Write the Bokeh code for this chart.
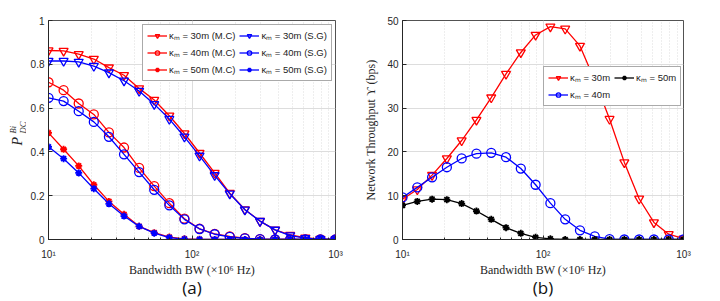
from bokeh.plotting import figure
from bokeh.layouts import row
from bokeh.models import Range1d, FixedTicker, Legend, LegendItem, Label, Title
from bokeh.embed import file_html
from bokeh.resources import INLINE
import math

# Bandwidth samples (x 10^6 Hz)
bw = [10.0, 12.743, 16.238, 20.691, 26.367, 33.598, 42.813, 54.556, 69.519, 88.587,
      112.884, 143.845, 183.298, 233.572, 297.635, 379.269, 483.293, 615.848, 784.760, 1000.0]

# (a) P_DC^Bi
p30_mc = [0.863, 0.861, 0.846, 0.824, 0.785, 0.750, 0.690, 0.637, 0.565, 0.484,
          0.395, 0.304, 0.212, 0.137, 0.084, 0.044, 0.021, 0.008, 0.002, 0.0]
p30_sg = [0.815, 0.815, 0.811, 0.792, 0.762, 0.725, 0.678, 0.618, 0.550, 0.469,
          0.382, 0.293, 0.209, 0.136, 0.084, 0.044, 0.018, 0.006, 0.001, 0.0]
p40_mc = [0.718, 0.682, 0.621, 0.571, 0.489, 0.420, 0.327, 0.244, 0.166, 0.095,
          0.049, 0.026, 0.014, 0.006, 0.002, 0.0, 0.0, 0.0, 0.0, 0.0]
p40_sg = [0.647, 0.632, 0.586, 0.537, 0.469, 0.389, 0.308, 0.227, 0.156, 0.092,
          0.048, 0.024, 0.012, 0.005, 0.002, 0.0, 0.0, 0.0, 0.0, 0.0]
p50_mc = [0.487, 0.412, 0.336, 0.250, 0.174, 0.115, 0.060, 0.031, 0.011, 0.003,
          0.001, 0.0, 0.0, 0.0, 0.0, 0.0, 0.0, 0.0, 0.0, 0.0]
p50_sg = [0.423, 0.369, 0.304, 0.232, 0.163, 0.107, 0.060, 0.029, 0.009, 0.002,
          0.0005, 0.0, 0.0, 0.0, 0.0, 0.0, 0.0, 0.0, 0.0, 0.0]

# (b) Network throughput (bps)
t30 = [9.2, 11.4, 14.7, 18.5, 22.6, 27.3, 32.4, 37.8, 42.7, 46.7,
       48.6, 48.1, 44.2, 36.3, 27.5, 17.6, 9.3, 3.9, 1.2, 0.2]
t40 = [9.6, 11.9, 14.2, 16.5, 18.5, 19.6, 19.8, 18.8, 16.2, 12.5,
       8.3, 4.6, 2.1, 0.7, 0.1, 0.0, 0.0, 0.0, 0.0, 0.0]
t50 = [7.8, 8.7, 9.2, 9.1, 8.2, 6.5, 4.6, 2.7, 1.4, 0.5,
       0.15, 0.0, 0.0, 0.0, 0.0, 0.0, 0.0, 0.0, 0.0, 0.0]

x_major = [10, 100, 1000]
x_minor = [20, 30, 40, 50, 60, 70, 80, 90, 200, 300, 400, 500, 600, 700, 800, 900]
x_labels = {10: "10¹", 100: "10²", 1000: "10³"}
ya_ticks = [0, 0.2, 0.4, 0.6, 0.8, 1]
ya_labels = {0: "0", 0.2: "0.2", 0.4: "0.4", 0.6: "0.6", 0.8: "0.8", 1: "1"}
yb_ticks = [0, 10, 20, 30, 40, 50]

RED = "#ff0000"
BLUE = "#0000ff"
BLACK = "#000000"
AX = "#262626"
SANS = "Liberation Sans"
SERIF = "Liberation Serif"


def make_fig(y_max, y_ticks, frame_w, bl, br):
    p = figure(x_axis_type="log", output_backend="svg", toolbar_location=None,
               frame_width=frame_w, frame_height=219,
               min_border_left=bl, min_border_right=br, min_border_top=20,
               min_border_bottom=60,
               x_range=Range1d(10, 1000), y_range=Range1d(0, y_max))
    p.background_fill_color = "white"
    p.border_fill_color = "white"
    p.outline_line_color = AX
    p.outline_line_width = 0.8
    p.xaxis.ticker = FixedTicker(ticks=x_major, minor_ticks=x_minor)
    p.xaxis.major_label_overrides = x_labels
    p.yaxis.ticker = FixedTicker(ticks=y_ticks)
    for ax in (p.xaxis[0], p.yaxis[0]):
        ax.major_tick_in = 4
        ax.major_tick_out = 0
        ax.minor_tick_in = 2
        ax.minor_tick_out = 0
        ax.axis_line_color = AX
        ax.major_tick_line_color = AX
        ax.minor_tick_line_color = AX
        ax.major_label_text_font = SANS
        ax.major_label_text_font_size = "10px"
        ax.major_label_text_color = AX
        ax.axis_label_text_font = SERIF
        ax.axis_label_text_font_size = "12px"
        ax.axis_label_text_font_style = "normal"
        ax.axis_label_text_color = AX
        ax.axis_label_text_line_height = 1.0
    p.yaxis.minor_tick_line_color = None
    p.yaxis.major_label_standoff = 4
    p.xaxis.major_label_standoff = 9
    p.xaxis.axis_label_standoff = 0
    p.xaxis.axis_label = "Bandwidth BW (×10⁶ Hz)"
    p.xgrid.grid_line_color = "#dddddd"
    p.xgrid.minor_grid_line_color = "#dddddd"
    p.xgrid.minor_grid_line_dash = "1 2"
    p.ygrid.grid_line_color = "#dddddd"
    return p


def series(p, y, color, marker, size):
    r1 = p.line(bw, y, line_color=color, line_width=1.3)
    if marker == "asterisk":
        r2 = p.scatter(bw, y, marker="asterisk", size=size, line_color=color, line_width=1.8)
    else:
        r2 = p.scatter(bw, y, marker=marker, size=size, line_color=color,
                       fill_color=None, line_width=1.3)
    return [r1, r2]


def style_legend(lg):
    lg.label_text_font = SANS
    lg.label_text_font_size = "9.5px"
    lg.label_text_color = "#222222"
    lg.glyph_width = 20
    lg.glyph_height = 11
    lg.label_height = 11
    lg.label_standoff = 2
    lg.spacing = 4
    lg.padding = 4
    lg.margin = 0
    lg.border_line_color = "#555555"
    lg.border_line_width = 1
    lg.background_fill_alpha = 1.0


def caption(text):
    return Title(text=text, align="center", text_font="Open Sans",
                 text_font_size="17px", text_font_style="normal",
                 text_line_height=1.0, text_color="#111111", standoff=-11)


# ---------- y-axis title of (a), P^{Bi}_{DC}, in a narrow side panel ----------
lab = figure(output_backend="svg", toolbar_location=None,
             frame_width=26, frame_height=219,
             min_border_left=0, min_border_right=0, min_border_top=20,
             min_border_bottom=0, x_axis_location=None, y_axis_location=None,
             x_range=Range1d(0, 1), y_range=Range1d(0, 1))
lab.grid.visible = False
lab.outline_line_color = None
lab.add_layout(Label(x=17, y=94, x_units="screen", y_units="screen", text="P",
                     angle=math.pi / 2, text_font=SERIF, text_font_style="italic",
                     text_font_size="14px", text_align="left", text_baseline="middle",
                     text_color=AX))
lab.add_layout(Label(x=12, y=106, x_units="screen", y_units="screen", text="Bi",
                     angle=math.pi / 2, text_font=SERIF, text_font_style="italic",
                     text_font_size="8.5px", text_align="left", text_baseline="middle",
                     text_color=AX))
lab.add_layout(Label(x=22, y=106, x_units="screen", y_units="screen", text="DC",
                     angle=math.pi / 2, text_font=SERIF, text_font_style="italic",
                     text_font_size="8.5px", text_align="left", text_baseline="middle",
                     text_color=AX))

# ---------- (a) ----------
pa = make_fig(1, ya_ticks, 287, 22, 25)
pa.yaxis.major_label_overrides = ya_labels
r30mc = series(pa, p30_mc, RED, "inverted_triangle", 9)
r40mc = series(pa, p40_mc, RED, "circle", 9)
r50mc = series(pa, p50_mc, RED, "asterisk", 7)
r30sg = series(pa, p30_sg, BLUE, "inverted_triangle", 9)
r40sg = series(pa, p40_sg, BLUE, "circle", 9)
r50sg = series(pa, p50_sg, BLUE, "asterisk", 7)

lga = Legend(items=[
    LegendItem(label="κₘ = 30m (M.C)", renderers=r30mc),
    LegendItem(label="κₘ = 40m (M.C)", renderers=r40mc),
    LegendItem(label="κₘ = 50m (M.C)", renderers=r50mc),
    LegendItem(label="κₘ = 30m (S.G)", renderers=r30sg),
    LegendItem(label="κₘ = 40m (S.G)", renderers=r40sg),
    LegendItem(label="κₘ = 50m (S.G)", renderers=r50sg),
], nrows=3, location=(94, 158))
style_legend(lga)
pa.add_layout(lga)
pa.add_layout(caption("(a)"), "below")

# ---------- (b) ----------
pb = make_fig(50, yb_ticks, 281, 42, 15)
pb.yaxis.axis_label = "Network Throughput ϒ (bps)"
pb.yaxis.axis_label_standoff = 6
s30 = series(pb, t30, RED, "inverted_triangle", 9)
s40 = series(pb, t40, BLUE, "circle", 9)
s50 = series(pb, t50, BLACK, "asterisk", 7)
lgb = Legend(items=[
    LegendItem(label="κₘ = 30m", renderers=s30),
    LegendItem(label="κₘ = 40m", renderers=s40),
    LegendItem(label="κₘ = 50m", renderers=s50),
], nrows=2, location=(141, 133))
style_legend(lgb)
pb.add_layout(lgb)
pb.add_layout(caption("(b)"), "below")

layout = row(lab, pa, pb, spacing=0)
open("out.html", "w").write(file_html(layout, INLINE))
